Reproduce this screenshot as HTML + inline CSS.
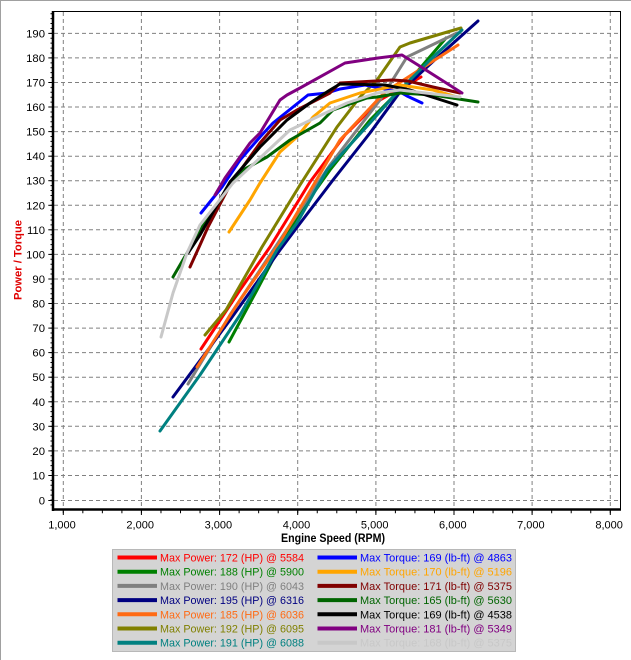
<!DOCTYPE html>
<html><head><meta charset="utf-8"><style>
html,body{margin:0;padding:0;background:#fff;}
svg{display:block;}
text{font-family:"Liberation Sans",Arial,sans-serif;}
</style></head><body>
<svg width="631" height="660" viewBox="0 0 631 660" xmlns="http://www.w3.org/2000/svg">
<rect x="0" y="0" width="631" height="660" fill="#fff"/>
<line x1="0" y1="0.5" x2="631" y2="0.5" stroke="#a0a0a0" stroke-width="1"/>
<line x1="0.5" y1="0" x2="0.5" y2="660" stroke="#a0a0a0" stroke-width="1"/>

<!-- grid -->
<g stroke="#808080" stroke-width="1" stroke-dasharray="4,3" fill="none">
<line x1="63.3" y1="12" x2="63.3" y2="508"/>
<line x1="141.4" y1="12" x2="141.4" y2="508"/>
<line x1="219.6" y1="12" x2="219.6" y2="508"/>
<line x1="297.7" y1="12" x2="297.7" y2="508"/>
<line x1="375.9" y1="12" x2="375.9" y2="508"/>
<line x1="454.0" y1="12" x2="454.0" y2="508"/>
<line x1="532.1" y1="12" x2="532.1" y2="508"/>
<line x1="610.3" y1="12" x2="610.3" y2="508"/>
<line x1="54" y1="500.5" x2="620" y2="500.5"/>
<line x1="54" y1="475.5" x2="620" y2="475.5"/>
<line x1="54" y1="450.9" x2="620" y2="450.9"/>
<line x1="54" y1="426.3" x2="620" y2="426.3"/>
<line x1="54" y1="401.8" x2="620" y2="401.8"/>
<line x1="54" y1="377.2" x2="620" y2="377.2"/>
<line x1="54" y1="352.6" x2="620" y2="352.6"/>
<line x1="54" y1="328.1" x2="620" y2="328.1"/>
<line x1="54" y1="303.5" x2="620" y2="303.5"/>
<line x1="54" y1="279.0" x2="620" y2="279.0"/>
<line x1="54" y1="254.4" x2="620" y2="254.4"/>
<line x1="54" y1="229.8" x2="620" y2="229.8"/>
<line x1="54" y1="205.3" x2="620" y2="205.3"/>
<line x1="54" y1="180.7" x2="620" y2="180.7"/>
<line x1="54" y1="156.2" x2="620" y2="156.2"/>
<line x1="54" y1="131.6" x2="620" y2="131.6"/>
<line x1="54" y1="107.0" x2="620" y2="107.0"/>
<line x1="54" y1="82.5" x2="620" y2="82.5"/>
<line x1="54" y1="57.9" x2="620" y2="57.9"/>
<line x1="54" y1="33.4" x2="620" y2="33.4"/>
</g>

<!-- series: power -->
<g fill="none" stroke-width="3" stroke-linejoin="round" stroke-linecap="round">
<polyline stroke="#ff0000" points="201,349 240,290 270,247 310,182 345,135 380,100 421,77"/>
<polyline stroke="#008000" points="229,342 257,290 277,252 300,212 330,170 370,120 410,80 446,38"/>
<polyline stroke="#808080" points="188,384 230,315 280,240 330,165 380,100 407,57 457,33"/>
<polyline stroke="#000080" points="173,397 230,320 280,250 298,226 333,180 370,133 400,92 440,55 478,21"/>
<polyline stroke="#ff6a13" points="197,367 240,300 277,247 340,140 385,92 458,45"/>
<polyline stroke="#808000" points="205,335 226,310 262,247 300,185 337,127 360,97 377,80 400,47 410,43 461,28"/>
<polyline stroke="#008080" points="160,431 200,375 240,315 277,250 297,223 327,170 370,123 393,97 430,60 462,30"/>
<!-- torque -->
<polyline stroke="#0000ff" points="201,213 222,187 240,160 260,137 273,123 293,107 308,95 327,93 340,89 365,85 400,92 407,96 422,103"/>
<polyline stroke="#ffa500" points="229,232 250,200 260,183 280,152 297,137 313,117 330,103 360,93 400,85 433,90 457,97"/>
<polyline stroke="#800000" points="190,267 200,245 208,227 230,185 260,143 280,120 297,110 330,93 340,83 392,80 408,81 433,87 460,93"/>
<polyline stroke="#006400" points="173,277 187,253 205,222 227,190 243,170 267,157 290,140 320,123 333,110 367,98 377,97 400,93 433,95 478,102"/>
<polyline stroke="#000000" points="188,253 200,235 230,182 260,147 287,120 310,103 330,90 340,84 385,85 410,90 457,105"/>
<polyline stroke="#800080" points="215,195 225,178 250,143 260,133 280,100 287,95 300,88 345,63 378,58 402,55 418,65 462,93"/>
<polyline stroke="#c8c8c8" points="161,337 173,293 187,253 200,225 233,183 260,158 290,130 317,117 347,103 377,93 400,90 460,97"/>
</g>

<!-- frame -->
<line x1="53" y1="11.5" x2="620.5" y2="11.5" stroke="#000" stroke-width="1"/>
<line x1="620.5" y1="11" x2="620.5" y2="510" stroke="#000" stroke-width="1"/>
<line x1="53" y1="11" x2="53" y2="511" stroke="#000" stroke-width="2.5"/>
<line x1="52" y1="509.5" x2="621" y2="509.5" stroke="#000" stroke-width="2.5"/>

<!-- y ticks -->
<line x1="51.3" y1="500.5" x2="51.3" y2="12" stroke="#000" stroke-width="1.6" stroke-dasharray="1,3.912"/>
<line x1="50.5" y1="504.9" x2="52" y2="504.9" stroke="#000" stroke-width="1"/>
<g stroke="#000" stroke-width="1">
<line x1="48.3" y1="500.5" x2="52" y2="500.5"/>
<line x1="48.3" y1="475.5" x2="52" y2="475.5"/>
<line x1="48.3" y1="450.9" x2="52" y2="450.9"/>
<line x1="48.3" y1="426.3" x2="52" y2="426.3"/>
<line x1="48.3" y1="401.8" x2="52" y2="401.8"/>
<line x1="48.3" y1="377.2" x2="52" y2="377.2"/>
<line x1="48.3" y1="352.6" x2="52" y2="352.6"/>
<line x1="48.3" y1="328.1" x2="52" y2="328.1"/>
<line x1="48.3" y1="303.5" x2="52" y2="303.5"/>
<line x1="48.3" y1="279.0" x2="52" y2="279.0"/>
<line x1="48.3" y1="254.4" x2="52" y2="254.4"/>
<line x1="48.3" y1="229.8" x2="52" y2="229.8"/>
<line x1="48.3" y1="205.3" x2="52" y2="205.3"/>
<line x1="48.3" y1="180.7" x2="52" y2="180.7"/>
<line x1="48.3" y1="156.2" x2="52" y2="156.2"/>
<line x1="48.3" y1="131.6" x2="52" y2="131.6"/>
<line x1="48.3" y1="107.0" x2="52" y2="107.0"/>
<line x1="48.3" y1="82.5" x2="52" y2="82.5"/>
<line x1="48.3" y1="57.9" x2="52" y2="57.9"/>
<line x1="48.3" y1="33.4" x2="52" y2="33.4"/>
</g>
<!-- x ticks -->
<line x1="62.8" y1="511.8" x2="620" y2="511.8" stroke="#000" stroke-width="3" stroke-dasharray="1,18.535"/>
<g stroke="#000" stroke-width="1">
<line x1="63.3" y1="510" x2="63.3" y2="515"/>
<line x1="141.4" y1="510" x2="141.4" y2="515"/>
<line x1="219.6" y1="510" x2="219.6" y2="515"/>
<line x1="297.7" y1="510" x2="297.7" y2="515"/>
<line x1="375.9" y1="510" x2="375.9" y2="515"/>
<line x1="454.0" y1="510" x2="454.0" y2="515"/>
<line x1="532.1" y1="510" x2="532.1" y2="515"/>
<line x1="610.3" y1="510" x2="610.3" y2="515"/>
</g>

<!-- y labels -->
<g font-size="11.3" fill="#000" text-anchor="end">
<text x="45" y="504.5">0</text>
<text x="45" y="479.5">10</text>
<text x="45" y="454.9">20</text>
<text x="45" y="430.3">30</text>
<text x="45" y="405.8">40</text>
<text x="45" y="381.2">50</text>
<text x="45" y="356.6">60</text>
<text x="45" y="332.1">70</text>
<text x="45" y="307.5">80</text>
<text x="45" y="283.0">90</text>
<text x="45" y="258.4">100</text>
<text x="45" y="233.8">110</text>
<text x="45" y="209.3">120</text>
<text x="45" y="184.7">130</text>
<text x="45" y="160.2">140</text>
<text x="45" y="135.6">150</text>
<text x="45" y="111.0">160</text>
<text x="45" y="86.5">170</text>
<text x="45" y="61.9">180</text>
<text x="45" y="37.4">190</text>
</g>
<!-- x labels -->
<g font-size="11" fill="#000" text-anchor="middle">
<text x="62" y="528.5">1,000</text>
<text x="140.2" y="528.5">2,000</text>
<text x="218.4" y="528.5">3,000</text>
<text x="296.5" y="528.5">4,000</text>
<text x="374.7" y="528.5">5,000</text>
<text x="452.8" y="528.5">6,000</text>
<text x="530.9" y="528.5">7,000</text>
<text x="609.1" y="528.5">8,000</text>
</g>
<text x="333" y="542" font-size="12" font-weight="bold" text-anchor="middle" textLength="104" lengthAdjust="spacingAndGlyphs">Engine Speed (RPM)</text>
<text transform="translate(21.5,260) rotate(-90)" font-size="11" font-weight="bold" fill="#e00000" text-anchor="middle" textLength="80" lengthAdjust="spacingAndGlyphs">Power / Torque</text>

<!-- legend -->
<rect x="112.5" y="549.5" width="403" height="102" fill="#d4d4d4" stroke="#b8b8b8" stroke-width="1"/>
<g stroke-width="4">
<line x1="117.5" y1="557.5" x2="157" y2="557.5" stroke="#ff0000"/>
<line x1="117.5" y1="571.7" x2="157" y2="571.7" stroke="#008000"/>
<line x1="117.5" y1="585.9" x2="157" y2="585.9" stroke="#808080"/>
<line x1="117.5" y1="600.1" x2="157" y2="600.1" stroke="#000080"/>
<line x1="117.5" y1="614.3" x2="157" y2="614.3" stroke="#ff6a13"/>
<line x1="117.5" y1="628.5" x2="157" y2="628.5" stroke="#808000"/>
<line x1="117.5" y1="642.7" x2="157" y2="642.7" stroke="#008080"/>
<line x1="317.5" y1="557.5" x2="357" y2="557.5" stroke="#0000ff"/>
<line x1="317.5" y1="571.7" x2="357" y2="571.7" stroke="#ffa500"/>
<line x1="317.5" y1="585.9" x2="357" y2="585.9" stroke="#800000"/>
<line x1="317.5" y1="600.1" x2="357" y2="600.1" stroke="#006400"/>
<line x1="317.5" y1="614.3" x2="357" y2="614.3" stroke="#000000"/>
<line x1="317.5" y1="628.5" x2="357" y2="628.5" stroke="#800080"/>
<line x1="317.5" y1="642.7" x2="357" y2="642.7" stroke="#c8c8c8"/>
</g>
<g font-size="11">
<text x="160" y="561.5" fill="#ff0000" textLength="144" lengthAdjust="spacingAndGlyphs">Max Power: 172 (HP) @ 5584</text>
<text x="160" y="575.7" fill="#008000" textLength="144" lengthAdjust="spacingAndGlyphs">Max Power: 188 (HP) @ 5900</text>
<text x="160" y="589.9" fill="#808080" textLength="144" lengthAdjust="spacingAndGlyphs">Max Power: 190 (HP) @ 6043</text>
<text x="160" y="604.1" fill="#000080" textLength="144" lengthAdjust="spacingAndGlyphs">Max Power: 195 (HP) @ 6316</text>
<text x="160" y="618.3" fill="#ff6a13" textLength="144" lengthAdjust="spacingAndGlyphs">Max Power: 185 (HP) @ 6036</text>
<text x="160" y="632.5" fill="#808000" textLength="144" lengthAdjust="spacingAndGlyphs">Max Power: 192 (HP) @ 6095</text>
<text x="160" y="646.7" fill="#008080" textLength="144" lengthAdjust="spacingAndGlyphs">Max Power: 191 (HP) @ 6088</text>
<text x="360" y="561.5" fill="#0000ff" textLength="152" lengthAdjust="spacingAndGlyphs">Max Torque: 169 (lb-ft) @ 4863</text>
<text x="360" y="575.7" fill="#ffa500" textLength="152" lengthAdjust="spacingAndGlyphs">Max Torque: 170 (lb-ft) @ 5196</text>
<text x="360" y="589.9" fill="#800000" textLength="152" lengthAdjust="spacingAndGlyphs">Max Torque: 171 (lb-ft) @ 5375</text>
<text x="360" y="604.1" fill="#006400" textLength="152" lengthAdjust="spacingAndGlyphs">Max Torque: 165 (lb-ft) @ 5630</text>
<text x="360" y="618.3" fill="#000000" textLength="152" lengthAdjust="spacingAndGlyphs">Max Torque: 169 (lb-ft) @ 4538</text>
<text x="360" y="632.5" fill="#800080" textLength="152" lengthAdjust="spacingAndGlyphs">Max Torque: 181 (lb-ft) @ 5349</text>
<text x="360" y="646.7" fill="#c8c8c8" textLength="152" lengthAdjust="spacingAndGlyphs">Max Torque: 168 (lb-ft) @ 5375</text>
</g>
</svg>
</body></html>
